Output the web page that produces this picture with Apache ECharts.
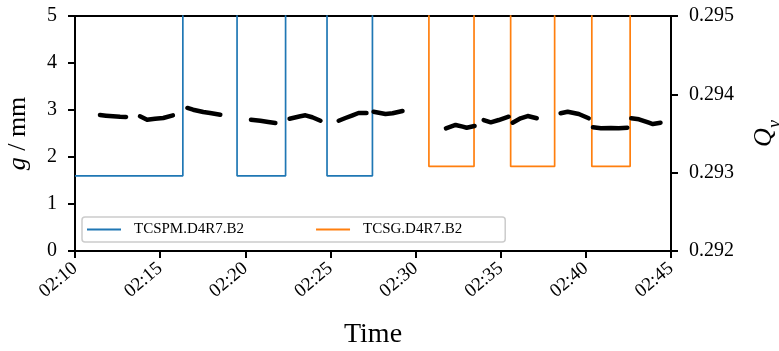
<!DOCTYPE html>
<html>
<head>
<meta charset="utf-8">
<script src="https://cdn.jsdelivr.net/npm/echarts@6/dist/echarts.min.js"></script>
<style>
html,body{margin:0;padding:0;background:#fff;}
#chart{width:779px;height:351px;}
</style>
</head>
<body>
<div id="chart"></div>
<script>
// ---- data ----
const xTickLabels = ["02:10","02:15","02:20","02:25","02:30","02:35","02:40","02:45"];
const seriesNames = ["TCSPM.D4R7.B2", "TCSG.D4R7.B2"];

// gap of collimator jaws (mm); 6 = retracted, above the visible range
const blueTimes = ["02:10:00","02:16:20","02:19:31","02:22:22","02:24:48","02:27:28","02:45:00"];
const blueGaps  = [1.6, 6, 1.6, 6, 1.6, 6, 6];
const orangeTimes = ["02:10:00","02:30:47","02:33:26","02:35:35","02:38:10","02:40:21","02:42:36","02:45:00"];
const orangeGaps  = [6, 1.8, 6, 1.8, 6, 1.8, 6, 6];

// vertical tune Q_y, null separates measurement blocks
const qyTimes = [
 "02:11:28","02:11:49","02:12:14","02:12:39","02:13:00", null,
 "02:13:49","02:14:14","02:14:42","02:15:11","02:15:45", null,
 "02:16:36","02:16:56","02:17:32","02:17:56","02:18:32", null,
 "02:20:20","02:20:53","02:21:21","02:21:46", null,
 "02:22:36","02:23:14","02:23:32","02:23:56","02:24:25", null,
 "02:25:29","02:25:53","02:26:18","02:26:39","02:27:07", null,
 "02:27:32","02:28:14","02:28:39","02:29:14", null,
 "02:31:47","02:32:21","02:32:46","02:33:00","02:33:28", null,
 "02:34:00","02:34:25","02:34:53","02:35:28", null,
 "02:35:42","02:36:10","02:36:35","02:37:07", null,
 "02:38:31","02:38:56","02:39:35","02:40:10", null,
 "02:40:25","02:40:53","02:41:28","02:41:56","02:42:26", null,
 "02:42:40","02:43:07","02:43:42","02:43:56","02:44:23"
];
const qyValues = [
 0.293736,0.293728,0.293720,0.293714,0.293711, null,
 0.293720,0.293676,0.293689,0.293698,0.293732, null,
 0.293826,0.293804,0.293774,0.293762,0.293740, null,
 0.293676,0.293663,0.293647,0.293634, null,
 0.293689,0.293720,0.293732,0.293707,0.293663, null,
 0.293663,0.293698,0.293732,0.293762,0.293762, null,
 0.293778,0.293749,0.293758,0.293787, null,
 0.293566,0.293609,0.293587,0.293574,0.293596, null,
 0.293672,0.293643,0.293672,0.293714, null,
 0.293638,0.293694,0.293723,0.293694, null,
 0.293758,0.293778,0.293749,0.293694, null,
 0.293579,0.293566,0.293570,0.293566,0.293574, null,
 0.293694,0.293681,0.293638,0.293621,0.293638
];

// ---- helpers ----
function toMin(s){ const p = s.split(':').map(Number); return p[0]*60 + p[1] + (p[2]||0)/60; }
function fmt(v){ const h = Math.floor(v/60), m = Math.round(v - h*60); return String(h).padStart(2,'0') + ':' + String(m).padStart(2,'0'); }

const FONT = 'Liberation Serif';
const blueData = blueTimes.map((t,i)=>[toMin(t), blueGaps[i]]);
const orangeData = orangeTimes.map((t,i)=>[toMin(t), orangeGaps[i]]);
const qySegments = [[]];
qyTimes.forEach((t,i)=>{
  if (t === null) qySegments.push([]);
  else qySegments[qySegments.length-1].push([toMin(t), qyValues[i]]);
});
const xMin = toMin(xTickLabels[0] + ":00"), xMax = toMin(xTickLabels[xTickLabels.length-1] + ":00");

const chart = echarts.init(document.getElementById('chart'), null, {renderer:'canvas'});
const axisLine = {show:true, lineStyle:{color:'#000', width:2}};
const axisTick = {show:true, length:7, lineStyle:{color:'#000', width:2}};

const qySeries = qySegments.map(seg => ({
  name:'Qy', type:'line', data:seg, yAxisIndex:1, symbol:'none', clip:true,
  lineStyle:{color:'#000', width:4.5, cap:'round', join:'round'}, z:3
}));

chart.setOption({
  animation:false,
  backgroundColor:'#fff',
  grid:{left:75, right:108, top:16, bottom:100, containLabel:false, outerBoundsMode:'none',
        show:true, borderColor:'#000', borderWidth:2, backgroundColor:'transparent'},
  legend:{
    data:seriesNames.map(n=>({name:n, icon:'rect'})), left:82, top:217, orient:'horizontal',
    itemWidth:34, itemHeight:2, itemGap:72,
    padding:[5,43,5,5],
    borderColor:'#cccccc', borderWidth:1.5, borderRadius:3, backgroundColor:'rgba(255,255,255,0.8)',
    textStyle:{fontFamily:FONT, fontSize:15, color:'#000', padding:[0,0,0,8], lineHeight:15}
  },
  xAxis:{
    type:'value', min:xMin, max:xMax, interval:5,
    axisLine, axisTick, splitLine:{show:false},
    axisLabel:{rotate:40, margin:15, fontFamily:FONT, fontSize:19, color:'#000', formatter:fmt},
    name:'Time', nameLocation:'middle', nameGap:70,
    nameTextStyle:{fontFamily:FONT, fontSize:28, color:'#000'}
  },
  yAxis:[
    {type:'value', position:'left', min:0, max:5, interval:1,
     axisLine, axisTick, splitLine:{show:false},
     axisLabel:{margin:18, fontFamily:FONT, fontSize:20, color:'#000'},
     name:'{i|g} / mm', nameLocation:'middle', nameRotate:90, nameGap:44,
     nameTextStyle:{fontFamily:FONT, fontSize:26, color:'#000',
       rich:{i:{fontFamily:FONT, fontSize:26, fontStyle:'italic', color:'#000'}}}
    },
    {type:'value', position:'right', min:0.292, max:0.295, interval:0.001,
     axisLine, axisTick, splitLine:{show:false},
     axisLabel:{margin:18, fontFamily:FONT, fontSize:20, color:'#000', formatter:v=>v.toFixed(3)},
     name:'{q|Q}{s|y}', nameLocation:'middle', nameRotate:90, nameGap:80,
     nameTextStyle:{fontFamily:FONT, fontSize:26, color:'#000',
       rich:{
         q:{fontFamily:FONT, fontSize:26, fontStyle:'italic', color:'#000', verticalAlign:'bottom', padding:[0,0,7,0]},
         s:{fontFamily:FONT, fontSize:18, fontStyle:'italic', color:'#000', verticalAlign:'bottom'}
       }}
    }
  ],
  series:[
    {name:seriesNames[0], type:'line', step:'end', data:blueData, yAxisIndex:0, symbol:'none', clip:true,
     lineStyle:{color:'#1f77b4', width:1.7}, itemStyle:{color:'#1f77b4'}, z:2},
    {name:seriesNames[1], type:'line', step:'end', data:orangeData, yAxisIndex:0, symbol:'none', clip:true,
     lineStyle:{color:'#ff7f0e', width:1.7}, itemStyle:{color:'#ff7f0e'}, z:2}
  ].concat(qySeries)
});
</script>
</body>
</html>
